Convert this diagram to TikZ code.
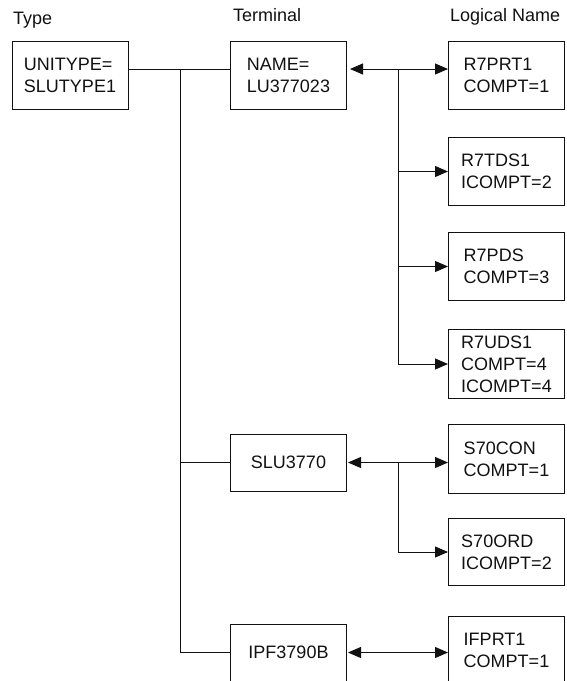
\documentclass[tikz,border=0pt]{standalone}
\usepackage{fontspec}
\setmainfont{Liberation Sans}
\usetikzlibrary{arrows.meta}
\definecolor{vtInk}{HTML}{111111}
\tikzset{
  vt box/.style={draw=vtInk, line width=1pt, minimum width=116pt, inner sep=0pt, align=left, font=\fontsize{18}{22}\selectfont, text=vtInk},
  vt head/.style={anchor=base west, inner sep=0pt, font=\fontsize{18}{22}\selectfont, text=vtInk},
  vt line/.style={draw=vtInk, line width=1pt},
  vt arrow/.style={vt line, -{Triangle[length=13pt,width=11pt]}},
  vt both/.style={vt line, {Triangle[length=13pt,width=11pt]}-{Triangle[length=13pt,width=11pt]}},
}

\begin{document}
\begin{tikzpicture}[x=1pt,y=-1pt]
  \useasboundingbox (0,0) rectangle (566,681);
  \clip (0,0) rectangle (566,681);
  % column heads
  \node[vt head] (headtype) at (13,24) {Type};
  \node[vt head] (headterm) at (233,21) {Terminal};
  \node[vt head] (headlog) at (450,21) {Logical Name};
  % type and terminals
  \node[vt box, minimum height=68pt] (unitype) at (70,75) {UNITYPE=\\SLUTYPE1};
  \node[vt box, minimum height=68pt] (name) at (288.5,75) {NAME=\\LU377023};
  \node[vt box, minimum height=57pt] (slu) at (288.5,462.5) {SLU3770};
  \node[vt box, minimum height=57pt] (ipf) at (288.5,652.5) {IPF3790B};
  % logical names
  \node[vt box, minimum height=68pt] (r7prt) at (506.5,75) {R7PRT1\\COMPT=1};
  \node[vt box, minimum height=68pt] (r7tds) at (506.5,171.5) {R7TDS1\\ICOMPT=2};
  \node[vt box, minimum height=68pt] (r7pds) at (506.5,266.5) {R7PDS\\COMPT=3};
  \node[vt box, minimum height=69pt] (r7uds) at (506.5,364) {R7UDS1\\COMPT=4\\ICOMPT=4};
  \node[vt box, minimum height=69pt] (s70con) at (506.5,459) {S70CON\\COMPT=1};
  \node[vt box, minimum height=67pt] (s70ord) at (506.5,552) {S70ORD\\ICOMPT=2};
  \node[vt box, minimum height=69pt] (ifprt) at (506.5,650.5) {IFPRT1\\COMPT=1};
  % forks
  \coordinate (trunk) at (180,69);
  \coordinate (fork1) at (398,69);
  \coordinate (fork2) at (398,462.5);
  % type to terminals
  \draw[vt line] ([yshift=6pt]unitype.east) -- ([yshift=6pt]name.west);
  \draw[vt line] (trunk) |- (ipf.west);
  \draw[vt line] (trunk |- slu.west) -- (slu.west);
  % terminals to logical names
  \draw[vt both, shorten <=3pt] ([yshift=6pt]name.east) -- ([yshift=6pt]r7prt.west);
  \draw[vt arrow] (fork1) |- (r7uds.west);
  \draw[vt arrow] (fork1 |- r7tds.west) -- (r7tds.west);
  \draw[vt arrow] (fork1 |- r7pds.west) -- (r7pds.west);
  \draw[vt both, shorten <=1pt] (slu.east) -- (slu.east -| s70con.west);
  \draw[vt arrow] (fork2) |- (s70ord.west);
  \draw[vt both, shorten <=1pt] (ipf.east) -- (ipf.east -| ifprt.west);
\end{tikzpicture}
\end{document}
